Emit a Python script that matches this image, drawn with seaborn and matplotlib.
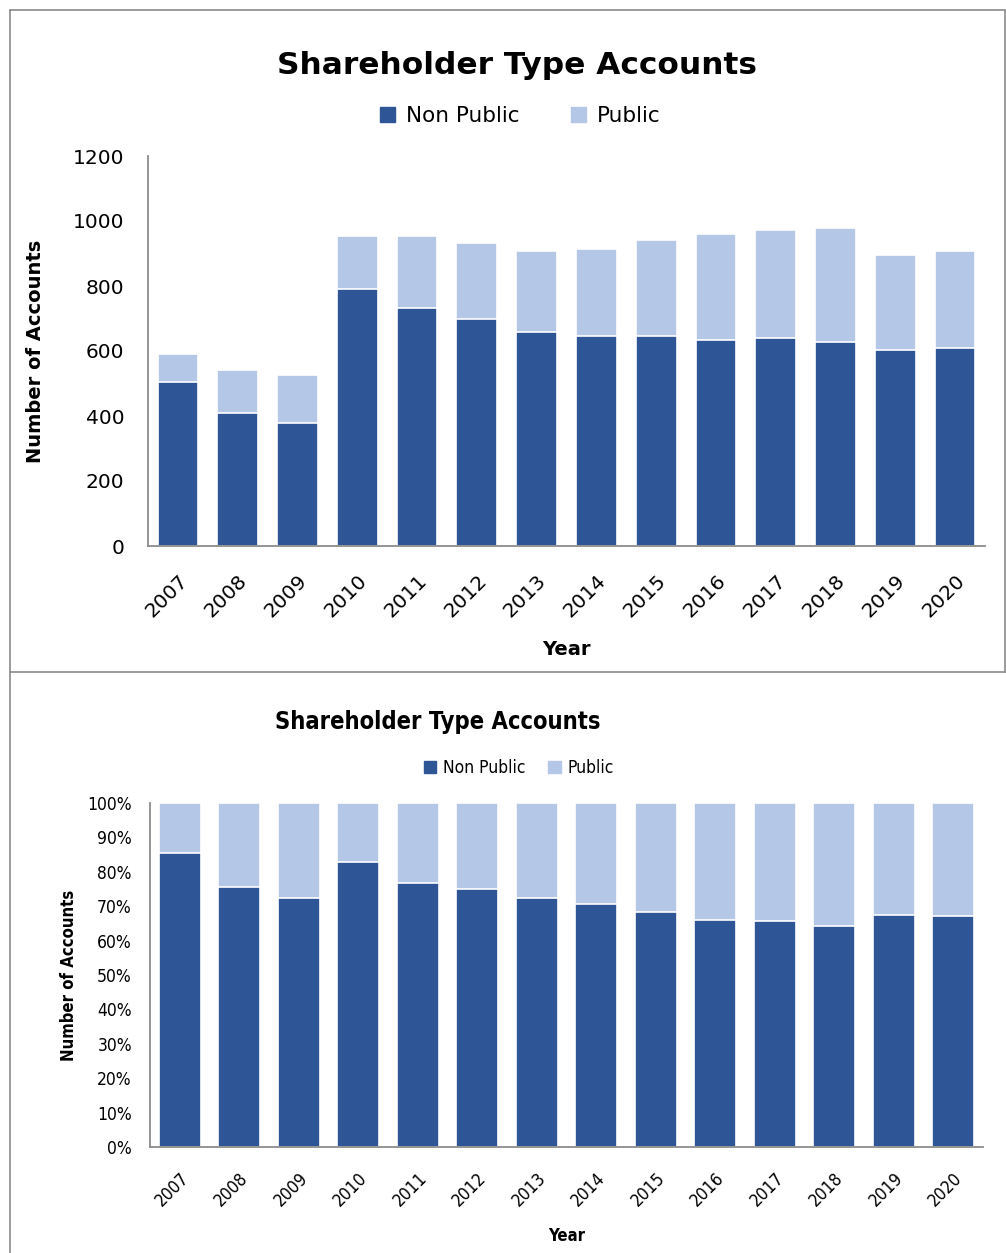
import numpy as np
import pandas as pd
import seaborn as sns
import matplotlib.pyplot as plt
from matplotlib.patches import Patch
from matplotlib.lines import Line2D
from matplotlib.ticker import FixedLocator, PercentFormatter

# Data

years = ['2007', '2008', '2009', '2010', '2011', '2012', '2013',
         '2014', '2015', '2016', '2017', '2018', '2019', '2020']
non_public = [504, 409, 380, 792, 733, 699, 657, 645, 645, 634, 639, 627, 604, 610]
total = [590, 542, 525, 955, 955, 931, 908, 914, 943, 961, 973, 978, 896, 909]

dark = '#2E5596'
light = '#B4C7E7'
axis_grey = '#8C8C8C'

df = pd.DataFrame({'Year': years, 'Non Public': non_public, 'Total': total})
df['Public'] = df['Total'] - df['Non Public']
df['NP pct'] = df['Non Public'] / df['Total'] * 100
df['Total pct'] = 100.0

sns.set_theme(style='white')
plt.rcParams['text.color'] = 'black'
plt.rcParams['axes.labelcolor'] = 'black'
plt.rcParams['xtick.color'] = 'black'
plt.rcParams['ytick.color'] = 'black'

fig = plt.figure(figsize=(10.06, 12.53), dpi=100)

# panel borders
for coords in [([10/1006, 1005/1006], [1-10/1253, 1-10/1253]),
               ([10/1006, 10/1006], [0, 1-10/1253]),
               ([1005/1006, 1005/1006], [1-10/1253, 1-672/1253]),
               ([10/1006, 1], [1-672/1253, 1-672/1253])]:
    fig.add_artist(Line2D(coords[0], coords[1], color='#8A8A8A', lw=1.2))


def style_axes(ax, tick_size, font, stretch, xpad, ypad):
    for s in ['top', 'right']:
        ax.spines[s].set_visible(False)
    for s in ['left', 'bottom']:
        ax.spines[s].set_color(axis_grey)
        ax.spines[s].set_linewidth(1.3)
    ax.set_xlim(-0.5, len(years) - 0.5)
    ax.xaxis.set_minor_locator(FixedLocator(np.arange(-0.5, len(years), 1.0)))
    ax.tick_params(axis='x', which='major', length=0, pad=xpad)
    ax.tick_params(axis='x', which='minor', length=7, color=axis_grey, width=1.3, direction='out')
    ax.tick_params(axis='y', length=7, color=axis_grey, width=1.3, direction='out',
                   labelsize=tick_size, pad=ypad)
    plt.setp(ax.get_xticklabels(), rotation=45, ha='right', va='top',
             rotation_mode='anchor', fontsize=tick_size, family=font, fontstretch=stretch)
    plt.setp(ax.get_yticklabels(), family=font, fontstretch=stretch)


# ---- top chart: counts
ax1 = fig.add_axes([148/1006, 707/1253, 837/1006, 390/1253])
sns.barplot(data=df, x='Year', y='Total', color=light, width=0.68,
            edgecolor='white', linewidth=1.2, saturation=1, ax=ax1)
sns.barplot(data=df, x='Year', y='Non Public', color=dark, width=0.68,
            edgecolor='white', linewidth=1.2, saturation=1, ax=ax1)
ax1.set_ylim(0, 1200)
ax1.set_yticks(range(0, 1201, 200))
font1 = 'DejaVu Sans'
style_axes(ax1, 14.5, font1, 'normal', 18, 10)
ax1.set_xlabel('Year', fontsize=14, fontweight='bold', family=font1, labelpad=14)
ax1.set_ylabel('Number of Accounts', fontsize=14, fontweight='bold', family=font1, labelpad=20)
fig.text(517/1006, 1-65/1253, 'Shareholder Type Accounts', ha='center', va='center',
         fontsize=22.5, fontweight='bold', family=font1)
handles = [Patch(color=dark, label='Non Public'), Patch(color=light, label='Public')]
fig.legend(handles=handles, loc='center', bbox_to_anchor=(520/1006, 1-116/1253), ncol=2,
           frameon=False, prop={'family': font1, 'size': 15.5}, handlelength=0.7,
           handleheight=0.7, handletextpad=0.5, columnspacing=2.4)

# ---- bottom chart: percentages
font2 = 'DejaVu Sans'
st2 = 'condensed'
ax2 = fig.add_axes([150/1006, 106/1253, 833/1006, 344/1253])
sns.barplot(data=df, x='Year', y='Total pct', color=light, width=0.7,
            edgecolor='white', linewidth=1.2, saturation=1, ax=ax2)
sns.barplot(data=df, x='Year', y='NP pct', color=dark, width=0.7,
            edgecolor='white', linewidth=1.2, saturation=1, ax=ax2)
ax2.set_ylim(0, 100)
ax2.set_yticks(range(0, 101, 10))
ax2.yaxis.set_major_formatter(PercentFormatter(decimals=0))
style_axes(ax2, 12.5, font2, st2, 16, 6)
ax2.set_xlabel('Year', fontsize=12, fontweight='bold', family=font2, fontstretch=st2, labelpad=12)
ax2.set_ylabel('Number of Accounts', fontsize=12, fontweight='bold', family=font2,
               fontstretch=st2, labelpad=7)
fig.text(438/1006, 1-722/1253, 'Shareholder Type Accounts', ha='center', va='center',
         fontsize=17, fontweight='bold', family=font2, fontstretch=st2)
fig.legend(handles=handles, loc='center', bbox_to_anchor=(519/1006, 1-768/1253), ncol=2,
           frameon=False, prop={'family': font2, 'size': 12.5, 'stretch': st2}, handlelength=0.7,
           handleheight=0.7, handletextpad=0.4, columnspacing=1.3)

fig.savefig('out.png', dpi=100)
